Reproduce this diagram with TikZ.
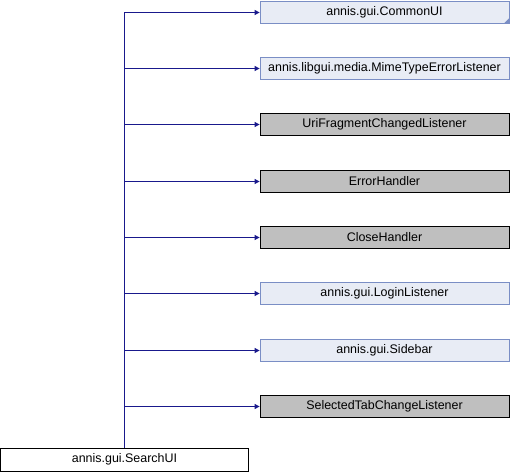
\documentclass[tikz,border=0pt]{standalone}
\usepackage{fontspec}
\setmainfont{Liberation Sans}
\usetikzlibrary{arrows.meta,positioning}
\definecolor{edgeblue}{RGB}{25,25,140}
\definecolor{extfill}{RGB}{232,236,245}
\definecolor{extline}{RGB}{122,142,197}
\definecolor{undoc}{RGB}{191,191,191}
\tikzset{
  cls/.style={draw, minimum width=249bp, minimum height=22bp, inner sep=0pt,
    font=\fontsize{12.5}{14}\selectfont, line width=0.8bp},
  extcls/.style={cls, draw=extline, fill=extfill},
  grycls/.style={cls, draw=black, fill=undoc},
  inherit/.style={draw=edgeblue, line width=1bp, -{Triangle[length=5bp,width=5bp]}}
}
\begin{document}
\begin{tikzpicture}[x=1bp,y=-1bp]
\useasboundingbox (0,0) rectangle (510,472);
\node[extcls] (commonui) at (384.5,12.5){annis.gui.CommonUI};
\node[extcls] (mimelist) at (384.5,68.5){annis.libgui.media.MimeTypeErrorListener};
\node[grycls] (urifrag) at (384.5,124.5){UriFragmentChangedListener};
\node[grycls] (errhandler) at (384.5,181.5){ErrorHandler};
\node[grycls] (closehandler) at (384.5,237.5){CloseHandler};
\node[extcls] (loginlist) at (384.5,293.5){annis.gui.LoginListener};
\node[extcls] (sidebar) at (384.5,350.5){annis.gui.Sidebar};
\node[grycls] (tabchange) at (384.5,406.5){SelectedTabChangeListener};
\node[cls, minimum width=248bp, minimum height=23bp] (searchui) at (124.5,459.5){annis.gui.SearchUI};
% folded corner of the truncated class
\fill[extline] (commonui.south east) -- ++(0,-6) -- ++(-6,6) -- cycle;
\draw[inherit] (searchui.north) |- (commonui.west);
\draw[inherit] (searchui.north) |- (mimelist.west);
\draw[inherit] (searchui.north) |- (urifrag.west);
\draw[inherit] (searchui.north) |- (errhandler.west);
\draw[inherit] (searchui.north) |- (closehandler.west);
\draw[inherit] (searchui.north) |- (loginlist.west);
\draw[inherit] (searchui.north) |- (sidebar.west);
\draw[inherit] (searchui.north) |- (tabchange.west);
\end{tikzpicture}
\end{document}
